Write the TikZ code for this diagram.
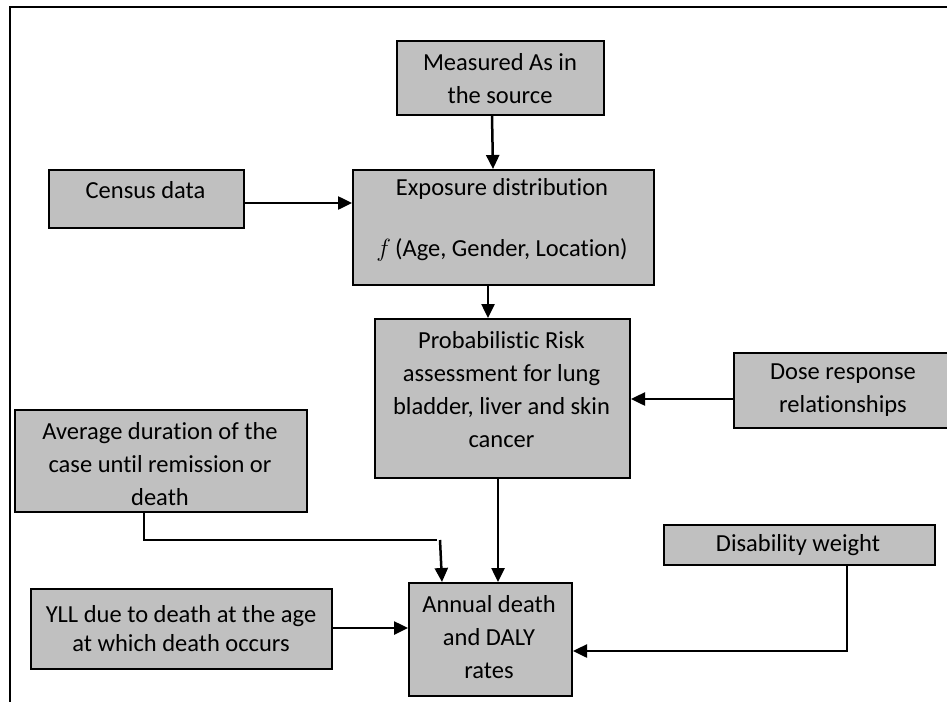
\documentclass[tikz,border=0pt]{standalone}
\usepackage{fontspec}
\setmainfont{Carlito}[Ligatures=NoCommon]
\usetikzlibrary{arrows.meta}
\begin{document}
\begin{tikzpicture}[x=1pt,y=-1pt,
  box/.style={draw=black,fill=boxgray,line width=2pt,anchor=north west,inner sep=0pt},
  txt/.style={align=center,inner sep=0pt,font=\fontsize{24.5}{33}\selectfont},
  conn/.style={line width=2.5pt,-{Triangle[length=14pt,width=13pt]}},
  plain/.style={line width=2.5pt},
  frame/.style={line width=2pt}]
\definecolor{boxgray}{RGB}{192,192,192}
\clip (0,0) rectangle (947,701);
\useasboundingbox (0,0) rectangle (947,701);
\fill[white] (0,0) rectangle (947,701);
% frame
\draw[frame] (9.5,710) -- (9.5,7) -- (960,7);
% boxes
\node[box,minimum width=207pt,minimum height=74pt] (meas) at (396,40) {};
\node[box,minimum width=195pt,minimum height=58pt] (cens) at (48,169) {};
\node[box,minimum width=301pt,minimum height=115pt] (expo) at (352,169) {};
\node[box,minimum width=255pt,minimum height=159pt] (prob) at (374,318) {};
\node[box,minimum width=222pt,minimum height=75pt] (dose) at (733,352) {};
\node[box,minimum width=292pt,minimum height=102pt] (avg) at (14,409) {};
\node[box,minimum width=271pt,minimum height=40pt] (dis) at (663,524) {};
\node[box,minimum width=301pt,minimum height=80pt] (yll) at (30,588) {};
\node[box,minimum width=163pt,minimum height=113pt] (ann) at (408,582) {};
% texts
\node[txt] (meas-t) at (500,78.5) {Measured As in\\the source};
\node[txt] (cens-t) at (145.5,190) {Census data};
\node[txt] (expo-t) at (502,219.5) {Exposure distribution\\[28pt]$f$\,(Age, Gender, Location)};
\node[txt] (prob-t) at (501.5,390) {Probabilistic Risk\\assessment for lung\\bladder, liver and skin\\cancer};
\node[txt] (dose-t) at (843,390) {Dose response\\relationships};
\node[txt] (avg-t) at (160,464) {Average duration of the\\case until remission or\\death};
\node[txt,font=\fontsize{24.5}{29}\selectfont] (yll-t) at (181,629) {YLL due to death at the age\\at which death occurs};
\node[txt] (ann-t) at (489,637) {Annual death\\and DALY\\rates};
\node[txt] (dis-t) at (798,545) {Disability weight};
% connectors
\draw[conn] (meas.south -| 492,0) -- (expo.north -| 493,0);
\draw[conn] (cens.east |- 0,203) -- (expo.west |- 0,203);
\draw[conn] (expo.south -| 488,0) -- (prob.north -| 488,0);
\draw[conn] (dose.west |- 0,399) -- (prob.east |- 0,399);
\draw[conn] (prob.south -| 498,0) -- (ann.north -| 498,0);
\coordinate (avgturn) at (144,540);
\draw[plain] (avg.south -| avgturn) -- (avgturn) -- (437,540);
\draw[conn] (440,540) -- (ann.north -| 442,0);
\draw[conn] (yll.east |- 0,628) -- (ann.west |- 0,628);
\coordinate (disturn) at (847,651);
\draw[conn] (dis.south -| disturn) -- (disturn) -- (ann.east |- disturn);
\end{tikzpicture}
\end{document}
